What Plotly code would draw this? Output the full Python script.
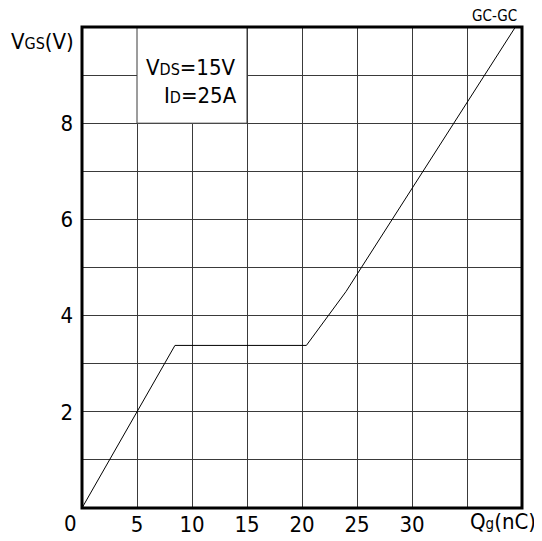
import plotly.graph_objects as go

# Data
qg_nc = [0, 8.45, 20.4, 24.0, 39.4]
vgs_v = [0, 3.38, 3.38, 4.5, 10.0]

x_grid = [0, 5, 10, 15, 20, 25, 30, 35, 40]
x_labels = ["", "5", "10", "15", "20", "25", "30", "", ""]
y_grid = [0, 1, 2, 3, 4, 5, 6, 7, 8, 9, 10]
y_labels = ["", "", "2", "", "4", "", "6", "", "8", "", ""]

FONT = "DejaVu Sans Condensed, Liberation Sans Narrow, Liberation Sans, Arial, sans-serif"
GRID = "#3a3a3a"

# page offset caused by the default 8px body margin
OFF = 8
PX0, PX1, PY0, PY1 = 82, 522, 27, 508   # plot area in page pixels
W, H = 542 - OFF, 541 - OFF
L, T = PX0 - OFF, PY0 - OFF
R, B = W - (PX1 - OFF), H - (PY1 - OFF)
PW, PH = PX1 - PX0, PY1 - PY0

fig = go.Figure()
fig.add_trace(go.Scatter(x=qg_nc, y=vgs_v, mode="lines",
                         line=dict(color="black", width=1), showlegend=False,
                         hoverinfo="skip"))

# white box for the condition text (covers grid cells 5..15 x 8..10)
fig.add_shape(type="rect", xref="x", yref="y", x0=5, x1=15, y0=8, y1=10,
              fillcolor="white", line=dict(color=GRID, width=1), layer="between")
# thick frame
fig.add_shape(type="rect", xref="paper", yref="paper", x0=0, x1=1, y0=0, y1=1,
              line=dict(color="black", width=3), layer="above")

fig.update_layout(
    width=W, height=H,
    margin=dict(l=L, r=R, t=T, b=B, pad=0),
    paper_bgcolor="white", plot_bgcolor="white",
    font=dict(family=FONT, size=22, color="black"),
    xaxis=dict(range=[0, 40], tickvals=x_grid, ticktext=x_labels,
               showgrid=True, gridcolor=GRID, gridwidth=1, automargin=False,
               showline=False, ticks="", zeroline=False, fixedrange=True,
               ticklabelstandoff=1),
    yaxis=dict(range=[0, 10], tickvals=y_grid, ticktext=y_labels,
               showgrid=True, gridcolor=GRID, gridwidth=1, automargin=False,
               showline=False, ticks="", zeroline=False, fixedrange=True,
               ticklabelstandoff=8),
)

annotations = [
    dict(text="0", x=70, y=523),
    dict(text="Q<span style='font-size:15px'>g</span>(nC)", x=503, y=521),
    dict(text="V<span style='font-size:16px'>GS</span>(V)", x=42, y=41),
    dict(text="GC-GC", x=494, y=16, size=15),
    dict(text="V<span style='font-size:16px'>DS</span>=15V", x=191, y=67),
    dict(text="I<span style='font-size:16px'>D</span>=25A", x=200, y=95),
]
for a in annotations:
    fig.add_annotation(
        text=a["text"], x=(a["x"] - PX0) / PW, y=(PY1 - a["y"]) / PH,
        xref="paper", yref="paper", showarrow=False,
        xanchor="center", yanchor="middle",
        font=dict(family=FONT, size=a.get("size", 22), color="black"),
    )

fig.write_html("out.html")
